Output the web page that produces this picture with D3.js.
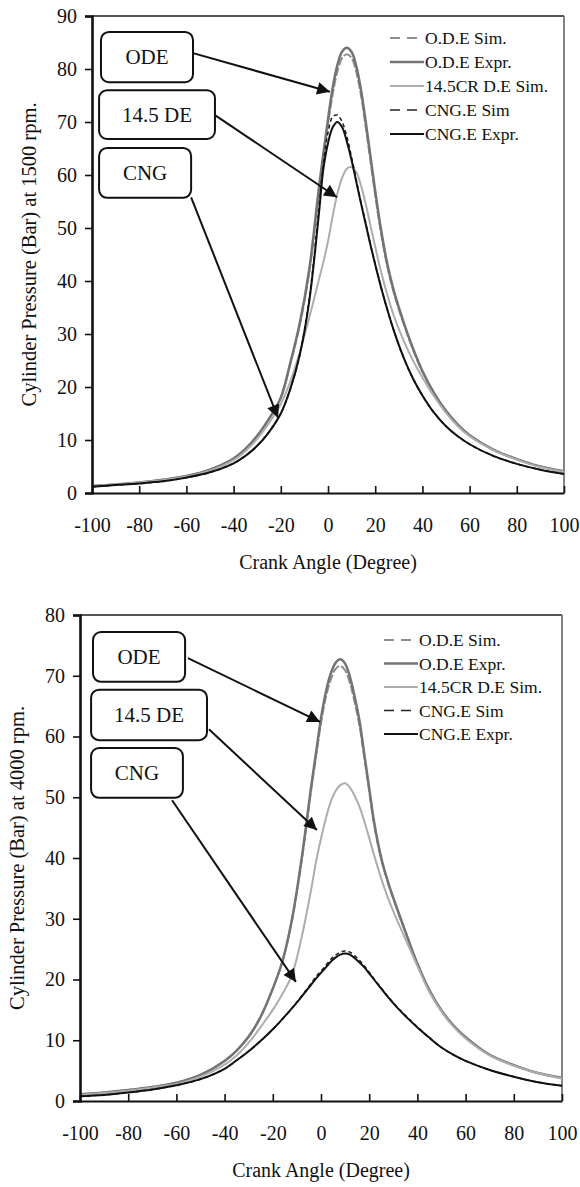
<!DOCTYPE html>
<html>
<head>
<meta charset="utf-8">
<script src="https://cdn.jsdelivr.net/npm/d3@7"></script>
<style>
  html, body { margin: 0; padding: 0; background: #fff; }
  svg { display: block; font-family: "Liberation Serif", "Times New Roman", serif; }
  svg text { font-family: "Liberation Serif", "Times New Roman", serif; fill: #111; }
</style>
</head>
<body>
<svg id="fig" width="580" height="1187"></svg>
<script>
// Crank angle samples (degrees) shared by every series
const angles = [-100,-90,-80,-70,-60,-50,-40,-35,-30,-25,-20,-16,-12,-8,-4,-2,0,2,4,6,8,10,12,14,16,18,20,22,25,28,32,36,40,45,50,55,60,70,80,90,100];

// Cylinder pressure (bar) at 1500 rpm
const odeSim1500  = [1.3,1.6,2.0,2.5,3.2,4.4,6.5,8.3,10.8,14,18,24.3,31.6,41.5,56,63,69.5,75.3,79.6,82.1,82.8,82.1,79.4,75,69,62.6,56.2,50.3,43,37.6,32,27.1,22.9,18.8,15.5,12.9,10.9,8.2,6.4,5.0,4.1];
const odeExpr1500 = [1.3,1.6,2.0,2.5,3.2,4.4,6.5,8.3,10.8,14,18,24.5,32,42,57,64,70.5,76.5,80.8,83.3,84,83.2,80.5,76,70,63.5,57,51,43.5,38,32.3,27.3,23,18.8,15.5,12.9,10.9,8.2,6.4,5.0,4.1];
const crSim1500   = [1.3,1.6,2.0,2.4,3.1,4.2,6.2,7.9,10.2,13.2,16.8,21,26.5,33,40,43.5,47.5,52.3,56.5,59.5,61.2,61.5,60.5,58,54.5,50.5,46.5,42.6,37.6,33.3,28.8,25,21.8,18.2,15.1,12.6,10.7,8.1,6.3,4.9,4.0];
const cngSim1500  = [1.2,1.5,1.8,2.2,2.9,3.9,5.6,7.0,8.9,11.5,15,19.6,26,36.5,53,62,68,71,71.3,70,67.2,63.3,59,54.8,50.9,46.9,43.2,39.7,34.8,30.5,25.6,21.6,18.4,15.1,12.6,10.7,9.2,7.0,5.5,4.4,3.6];
const cngExpr1500 = [1.2,1.5,1.8,2.2,2.9,3.9,5.6,7.0,8.9,11.5,15,19.6,26,36,52,61,66,69,70,69,66.3,62.8,58.7,54.6,50.7,46.8,43.1,39.6,34.8,30.5,25.6,21.6,18.4,15.1,12.6,10.7,9.2,7.0,5.5,4.4,3.6];

// Cylinder pressure (bar) at 4000 rpm
const odeSim4000  = [1.1,1.4,1.8,2.3,3.0,4.3,6.6,8.3,10.6,13.9,18.5,23,29.8,39.6,51.4,56.8,62.2,66.4,69.3,71.1,71.6,70.9,68.8,65.6,61.7,56.4,51,45.6,39.8,35.7,31.1,26.8,22.6,18.2,14.9,12.4,10.5,7.6,5.9,4.6,3.8];
const odeExpr4000 = [1.1,1.4,1.8,2.3,3.0,4.3,6.6,8.3,10.6,13.9,18.5,23,30,40,52,57.5,63,67.3,70.3,72.1,72.7,72,69.8,66.5,62.5,57,51.5,46,40,35.8,31.2,26.8,22.6,18.2,14.9,12.4,10.5,7.6,5.9,4.6,3.8];
const crSim4000   = [1.0,1.3,1.7,2.2,2.8,4.0,6.0,7.5,9.6,12.2,15,17.6,20.8,27,35,39.5,43.2,46.5,49.2,51,52,52.3,51.6,50.2,48.4,46,43.3,40.5,36.6,33.2,29.4,25.8,22.2,17.9,14.7,12.2,10.3,7.5,5.8,4.6,3.7];
const cngSim4000  = [0.8,1.0,1.4,1.9,2.6,3.6,5.3,6.7,8.2,9.9,11.8,13.5,15.3,17.3,19.4,20.5,21.4,22.3,23.3,24,24.5,24.7,24.5,23.9,23.1,22.2,21.2,20.1,18.6,17.1,15.3,13.7,12.2,10.4,8.8,7.6,6.6,5.1,4.0,3.1,2.5];
const cngExpr4000 = [0.8,1.0,1.4,1.9,2.6,3.6,5.3,6.7,8.2,9.9,11.8,13.5,15.3,17.2,19.2,20.2,21.1,22,22.9,23.6,24.1,24.3,24.1,23.5,22.8,22,21,20,18.5,17,15.2,13.6,12.1,10.4,8.8,7.6,6.6,5.1,4.0,3.1,2.5];

// Axis ticks and labels
const xTicks = [-100,-80,-60,-40,-20,0,20,40,60,80,100];
const yTicks1500 = [0,10,20,30,40,50,60,70,80,90];
const yTicks4000 = [0,10,20,30,40,50,60,70,80];
const seriesNames = ["O.D.E Sim.", "O.D.E Expr.", "14.5CR D.E Sim.", "CNG.E Sim", "CNG.E Expr."];
const calloutNames = ["ODE", "14.5 DE", "CNG"];
const xTitle = "Crank Angle (Degree)";

// Callout boxes [angle0, angle1, p0, p1], arrow tail and arrow head in data units
const callouts1500 = [
  { box: [-96.2, -57.2, 87.0, 77.5], from: [-57.2, 83.0], to: [0.8, 75.7] },
  { box: [-97.0, -47.9, 76.0, 66.8], from: [-47.9, 71.3], to: [3.8, 55.8] },
  { box: [-97.0, -58.0, 65.1, 55.7], from: [-58.0, 55.8], to: [-21.2, 14.2] }
];
const callouts4000 = [
  { box: [-94.6, -56.4, 77.2, 69.0], from: [-55.2, 72.9], to: [-0.4, 62.4] },
  { box: [-95.4, -47.3, 67.7, 59.4], from: [-46.5, 61.2], to: [-1.7, 44.6] },
  { box: [-95.4, -57.3, 58.1, 49.9], from: [-61.8, 49.5], to: [-10.4, 19.6] }
];

// Line styles per series, in legend order
const styles = [
  { color: "#8e8e8e", width: 2,   dash: "9,2", legendDash: "10,7" },
  { color: "#737373", width: 2.5, dash: null,  legendDash: null },
  { color: "#adadad", width: 2,   dash: null,  legendDash: null },
  { color: "#222",    width: 1.6, dash: "4,3", legendDash: "10,7" },
  { color: "#111",    width: 2,   dash: null,  legendDash: null }
];

const serif = '"Liberation Serif", "Times New Roman", serif';
const svg = d3.select("#fig");
const defs = svg.append("defs");
defs.append("marker")
  .attr("id", "head").attr("viewBox", "0 0 10 10")
  .attr("refX", 10).attr("refY", 5)
  .attr("markerWidth", 8).attr("markerHeight", 6.4)
  .attr("markerUnits", "strokeWidth")
  .attr("orient", "auto")
  .append("path").attr("d", "M0,0 L10,5 L0,10 Z").attr("fill", "#111");

function drawPanel(opt) {
  const x = d3.scaleLinear().domain([-100, 100]).range([opt.left, opt.right]);
  const y = d3.scaleLinear().domain([0, opt.yMax]).range([opt.bottom, opt.top]);
  const g = svg.append("g");

  // frame: top and right borders
  g.append("line").attr("x1", opt.left).attr("x2", opt.right).attr("y1", opt.top).attr("y2", opt.top)
    .attr("stroke", "#555").attr("stroke-width", 2);
  g.append("line").attr("x1", opt.right).attr("x2", opt.right).attr("y1", opt.top).attr("y2", opt.bottom)
    .attr("stroke", "#666").attr("stroke-width", 1.6);

  // series
  const line = d3.line().x((d, i) => x(angles[i])).y(d => y(d)).curve(d3.curveCatmullRom.alpha(0.5));
  opt.series.forEach((vals, k) => {
    const s = styles[k];
    g.append("path").attr("d", line(vals)).attr("fill", "none")
      .attr("stroke", s.color).attr("stroke-width", s.width)
      .attr("stroke-dasharray", s.dash)
      .attr("stroke-linejoin", "round");
  });

  // y axis
  const yAxis = d3.axisLeft(y).tickValues(opt.yTicks).tickSize(7).tickPadding(8).tickFormat(d => String(d));
  const ya = g.append("g").attr("transform", `translate(${opt.left},0)`).call(yAxis)
    .attr("font-family", serif);
  ya.select(".domain").attr("stroke", "#111").attr("stroke-width", 2.6);
  ya.selectAll(".tick line").attr("stroke", "#111").attr("stroke-width", 1.6);
  ya.selectAll(".tick text").style("font-size", "20px").style("font-family", serif).attr("fill", "#111");

  // x axis, ticks pointing inward
  const xAxis = d3.axisBottom(x).tickValues(xTicks).tickSize(-7).tickPadding(0).tickSizeOuter(0)
    .tickFormat(d => String(d));
  const xa = g.append("g").attr("transform", `translate(0,${opt.bottom})`).call(xAxis)
    .attr("font-family", serif);
  xa.select(".domain").attr("stroke", "#111").attr("stroke-width", 2);
  xa.selectAll(".tick line").attr("stroke", "#111").attr("stroke-width", 1.6);
  xa.selectAll(".tick text").style("font-size", "20px").style("font-family", serif).attr("fill", "#111")
    .attr("y", 39).attr("dy", null);

  // axis titles
  g.append("text").attr("x", (opt.left + opt.right) / 2).attr("y", opt.bottom + 76)
    .attr("text-anchor", "middle").style("font-size", "20px").style("font-family", serif).text(xTitle);
  g.append("text")
    .attr("transform", `translate(${opt.yTitleX},${(opt.top + opt.bottom) / 2}) rotate(-90)`)
    .attr("text-anchor", "middle").style("font-size", "20.5px").style("font-family", serif).text(opt.yTitle);

  // legend
  const lg = g.append("g");
  seriesNames.forEach((name, k) => {
    const s = styles[k];
    const ry = opt.legendY + k * opt.legendStep;
    lg.append("line").attr("x1", opt.legendX).attr("x2", opt.legendX + 34)
      .attr("y1", ry).attr("y2", ry)
      .attr("stroke", s.color).attr("stroke-width", s.width)
      .attr("stroke-dasharray", s.legendDash);
    lg.append("text").attr("x", opt.legendX + 35).attr("y", ry + 6)
      .style("font-size", "17.5px").style("font-family", serif).text(name);
  });

  // callouts with arrows
  opt.callouts.forEach((c, k) => {
    const [a0, a1, p0, p1] = c.box;
    const bx = x(a0), by = y(p0), bw = x(a1) - x(a0), bh = y(p1) - y(p0);
    g.append("line")
      .attr("x1", x(c.from[0])).attr("y1", y(c.from[1]))
      .attr("x2", x(c.to[0])).attr("y2", y(c.to[1]))
      .attr("stroke", "#111").attr("stroke-width", 2)
      .attr("marker-end", "url(#head)");
    g.append("rect").attr("x", bx).attr("y", by).attr("width", bw).attr("height", bh)
      .attr("rx", 8).attr("ry", 8)
      .attr("fill", "#fff").attr("stroke", "#111").attr("stroke-width", 2);
    g.append("text").attr("x", bx + bw / 2).attr("y", by + bh / 2 + 7)
      .attr("text-anchor", "middle").style("font-size", "21px").style("font-family", serif)
      .text(calloutNames[k]);
  });
}

drawPanel({
  left: 92, right: 564, top: 16, bottom: 493, yMax: 90,
  yTicks: yTicks1500, yTitleX: 36,
  yTitle: "Cylinder Pressure (Bar) at 1500 rpm.",
  series: [odeSim1500, odeExpr1500, crSim1500, cngSim1500, cngExpr1500],
  legendX: 390, legendY: 38, legendStep: 24,
  callouts: callouts1500
});

drawPanel({
  left: 80, right: 562, top: 615, bottom: 1101, yMax: 80,
  yTicks: yTicks4000, yTitleX: 24,
  yTitle: "Cylinder Pressure (Bar) at 4000 rpm.",
  series: [odeSim4000, odeExpr4000, crSim4000, cngSim4000, cngExpr4000],
  legendX: 384, legendY: 640, legendStep: 23.5,
  callouts: callouts4000
});
</script>
</body>
</html>
